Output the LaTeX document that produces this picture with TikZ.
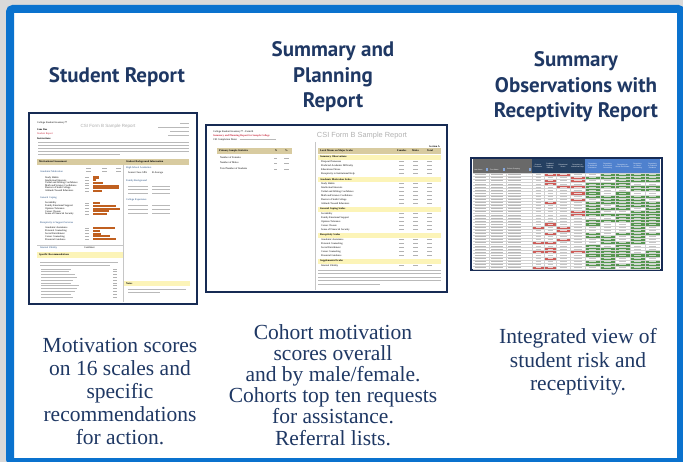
\documentclass[tikz,border=0pt]{standalone}
\usepackage{fontspec}
\setmainfont{Liberation Serif}
\newfontfamily\headfont{PT Sans}
\newfontfamily\reportfont{Liberation Sans}
\definecolor{framebl}{RGB}{10,114,206}
\definecolor{pagegray}{RGB}{217,217,217}
\definecolor{navy}{RGB}{31,56,100}
\definecolor{thumbnavy}{RGB}{23,43,84}
\definecolor{tanbar}{RGB}{216,203,160}
\definecolor{lemon}{RGB}{252,244,184}
\definecolor{rust}{RGB}{192,96,32}
\definecolor{riskred}{RGB}{206,92,88}
\definecolor{recgreen}{RGB}{86,150,80}
\definecolor{hdrgray}{RGB}{105,105,105}
\definecolor{hdrnavy}{RGB}{37,64,97}
\definecolor{hdrblue}{RGB}{79,129,206}
\definecolor{redtext}{RGB}{200,40,60}
\definecolor{sectblue}{RGB}{31,73,125}
\tikzset{
	heading/.style={font=\headfont\bfseries\fontsize{21}{25.5}\selectfont, text=navy, align=center},
	caption/.style={text=navy, align=center, anchor=north, inner sep=0pt},
	thumb/.style={draw=thumbnavy, fill=white, line width=1.5pt},
	tiny/.style={font=\fontsize{2.6}{3}\selectfont, inner sep=0pt, anchor=west},
	tinybf/.style={tiny, font=\bfseries\fontsize{2.6}{3}\selectfont},
	sect/.style={tiny, text=sectblue},
	txt/.style={draw=gray!55, line width=0.9pt},
	num/.style={draw=gray!60, line width=0.7pt},
	rule/.style={draw=gray!45, line width=0.3pt},
	hdr/.style={font=\reportfont\fontsize{1.7}{2}\selectfont, text=white, inner sep=0pt, align=center, text width=13pt}
}
\begin{document}
\begin{tikzpicture}[x=1pt, y=-1pt]
	\useasboundingbox (0,0) rectangle (683,462);
	\clip (0,0) rectangle (683,462);
	\fill[pagegray] (0,0) rectangle (683,462);
	\fill[white] (10,9) rectangle (681,462);
	\draw[framebl, line width=8pt, rounded corners=3pt] (10,9) rectangle (681,462);

	\node[heading] (h-student) at (117,77) {Student Report};
	\node[heading] (h-planning) at (333,77) {Summary and\\Planning\\Report};
	\node[heading] (h-recept) at (576,87) {Summary\\Observations with\\Receptivity Report};

	% student report
	\draw[thumb] (29,113) rectangle (197,304);
	\node[tiny] (sr-csi) at (37,123) {College Student Inventory\texttrademark};
	\node[tinybf] (sr-name) at (37,130) {Jane Doe};
	\node[tiny, text=redtext] (sr-kind) at (37,133.5) {Student Report};
	\node[font=\reportfont\fontsize{4.5}{5}\selectfont, text=gray!65, inner sep=0pt] (sr-form) at (108,126) {CSI Form B Sample Report};
	\foreach \xa/\y in {180/123, 158/127, 170/131, 168/135}
		\draw[txt, line width=0.7pt] (\xa,\y) -- (189,\y);
	\node[tinybf] (sr-instr) at (37,139) {Instructions};
	\foreach \y in {142.5,145.5,148.5,151.5}
		\draw[txt] (38,\y) -- (189,\y);
	\draw[txt] (38,154.5) -- (120,154.5);
	\fill[tanbar] (37,159) rectangle (189,165);
	\node[tinybf] (sr-ma) at (39,162) {Motivational Assessment};
	\node[tinybf] (sr-bg) at (126,162) {Student Background Information};
	\draw[rule] (123,165) -- (123,302);
	\node[sect] (sr-acad) at (40,171.5) {Academic Motivation};
	\foreach \x in {86,102,116}
		\draw[num, line width=0.6pt] (\x,168.5) -- ++(5,0) (\x,171.5) -- ++(5,0);
	\foreach \name/\len [count=\i from 0] in {Study Habits/6, Intellectual Interests/3, Verbal and Writing Confidence/10, Math and Science Confidence/26, Desire to Finish College/26, Attitude Toward Educators/9} {
		\node[tiny] (sr-am-\i) at (45,177.5+2.7*\i) {\name};
		\draw[num] (85,177.5+2.7*\i) -- ++(4,0);
		\fill[rust] (93,176.5+2.7*\i) rectangle ++(\len,2.1);
	}
	\node[sect] (sr-cope) at (40,198) {General Coping};
	\foreach \name/\len [count=\i from 0] in {Sociability/7, Family Emotional Support/23, Opinion Tolerance/27, Career Closure/16, Sense of Financial Security/14} {
		\node[tiny] (sr-gc-\i) at (45,203+2.8*\i) {\name};
		\draw[num] (85,203+2.8*\i) -- ++(4,0);
		\fill[rust] (93,202+2.8*\i) rectangle ++(\len,2.1);
	}
	\node[sect] (sr-rec) at (40,223) {Receptivity to Support Services};
	\foreach \name/\len [count=\i from 0] in {Academic Assistance/22, Personal Counseling/7, Social Enrichment/8, Career Counseling/17, Financial Guidance/23} {
		\node[tiny] (sr-rs-\i) at (45,228+2.8*\i) {\name};
		\draw[num] (85,228+2.8*\i) -- ++(4,0);
		\fill[rust] (93,227+2.8*\i) rectangle ++(\len,2.1);
	}
	\draw[rule] (37,245) -- (123,245);
	\node[sect] (sr-valid) at (40,248) {Internal Validity};
	\node[tiny] (sr-conf) at (84,248) {Confident};
	\fill[lemon] (37,252) rectangle (123,258);
	\node[tinybf] (sr-spec) at (39,255) {Specific Recommendations};
	\draw[txt] (40,262) -- (118,262);
	\draw[txt] (40,265) -- (110,265);
	\foreach \len [count=\i from 0] in {30,28,34,36,32,30,38,36,34,30,32} {
		\draw[txt, line width=0.7pt] (41,269+2.8*\i) -- ++(\len,0);
		\draw[num] (113,269+2.8*\i) -- ++(4,0);
	}
	\node[sect] (sr-hs) at (126,168) {High School Academics};
	\node[tiny] (sr-gpa) at (128,173) {Senior Class GPA};
	\node[tiny] (sr-avg) at (152,173) {B Average};
	\node[sect] (sr-fam) at (126,181) {Family Background};
	\node[sect] (sr-col) at (126,200) {College Experience};
	\foreach \y in {186,189.5,193,205,209,213}
		\draw[txt, line width=0.7pt] (128,\y) -- ++(20,0) (152,\y) -- ++(18,0);
	\fill[lemon] (124,281) rectangle (190,286);
	\node[tinybf] (sr-notes) at (126,283.5) {Notes};
	\draw[txt] (128,289.5) -- (186,289.5);
	\draw[txt] (128,292.5) -- (160,292.5);

	% summary and planning report
	\draw[thumb] (206,125) rectangle (447,292);
	\node[tiny] (sp-csi) at (213,131.5) {College Student Inventory\texttrademark\ - Form B};
	\node[tinybf, text=redtext] (sp-kind) at (213,135.5) {Summary and Planning Report for Sample College};
	\node[tiny] (sp-date) at (213,139.5) {CSI Completion Dates:};
	\draw[txt, line width=0.7pt] (sp-date.east) ++(2,0) -- ++(36,0);
	\node[font=\reportfont\fontsize{7.4}{8}\selectfont, text=gray!60, inner sep=0pt] (sp-form) at (362,136) {CSI Form B Sample Report};
	\node[tinybf, anchor=east] (sp-sect) at (440,147) {Section A};
	\fill[tanbar] (217,148) rectangle (292,154);
	\node[tinybf] (sp-pss) at (219,151) {Primary Sample Statistics};
	\node[tinybf] (sp-n) at (275,151) {N};
	\node[tinybf] (sp-pct) at (285,151) {\%};
	\foreach \name/\y [count=\i] in {Number of Females/158, Number of Males/163, Total Number of Students/169} {
		\node[tiny] (sp-ps-\i) at (220,\y) {\name};
		\draw[num] (274,\y) -- ++(3,0) (284,\y) -- ++(5,0);
	}
	\draw[rule] (315,142) -- (315,290);
	\fill[tanbar] (318,148) rectangle (441,154);
	\node[tinybf] (sp-lm) at (320,151) {Local Means on Major Scales};
	\node[tinybf] (sp-fem) at (397,151) {Females};
	\node[tinybf] (sp-mal) at (412,151) {Males};
	\node[tinybf] (sp-tot) at (427,151) {Total};
	\foreach \y/\name in {155/Summary Observations, 177/Academic Motivation Scales, 207/General Coping Scales, 233/Receptivity Scales, 259/Supplemental Scales} {
		\fill[lemon] (318,\y) rectangle (441,\y+4.6);
		\node[tinybf] (sp-bar-\y) at (320,\y+2.3) {\name};
	}
	\foreach \name [count=\i from 0] in {Dropout Proneness, Predicted Academic Difficulty, Educational Stress, Receptivity to Institutional Help}
		\node[tiny] (sp-so-\i) at (321,161.5+4*\i) {\name};
	\foreach \name [count=\i from 0] in {Study Habits, Intellectual Interests, Verbal and Writing Confidence, Math and Science Confidence, Desire to Finish College, Attitude Toward Educators}
		\node[tiny] (sp-am-\i) at (321,183.5+4*\i) {\name};
	\foreach \name [count=\i from 0] in {Sociability, Family Emotional Support, Opinion Tolerance, Career Closure, Sense of Financial Security}
		\node[tiny] (sp-gc-\i) at (321,213.5+4*\i) {\name};
	\foreach \name [count=\i from 0] in {Academic Assistance, Personal Counseling, Social Enrichment, Career Counseling, Financial Guidance}
		\node[tiny] (sp-rs-\i) at (321,239.5+4*\i) {\name};
	\node[tiny] (sp-iv) at (321,265.5) {Internal Validity};
	\foreach \y in {161.5,165.5,169.5,173.5,183.5,187.5,191.5,195.5,199.5,203.5,213.5,217.5,221.5,225.5,229.5,239.5,243.5,247.5,251.5,255.5,265.5}
		\foreach \x in {399,413,427}
			\draw[num] (\x,\y) -- ++(5,0);
	\foreach \y in {270,273.5,277,280.5}
		\draw[txt] (318,\y) -- (441,\y);
	\draw[txt] (318,284) -- (380,284);

	% receptivity report
	\draw[thumb] (471,158) rectangle (662,270);
	\fill[hdrgray] (473,159.5) rectangle (532,173);
	\fill[hdrnavy] (532,159.5) rectangle (585,173);
	\fill[hdrblue] (585,159.5) rectangle (660,173);
	\foreach \xa/\xb/\name [count=\i] in {473/489/Last Name, 489/506/First Name, 506/532/Cohort Grouping} {
		\node[hdr, anchor=west, text width=14pt, align=left] (rv-h\i) at (\xa+1,169.5) {\name};
		\fill[hdrblue!70] (\xb-3.5,168.5) rectangle (\xb-1,171);
	}
	\foreach \xa/\xb/\name [count=\i from 4] in {532/544/Dropout Proneness, 544/556/Predicted Academic Difficulty, 556/570/Educational Stress, 570/585/Receptivity to Institutional Help, 585/600/Receptivity to Academic Assistance, 600/615/Receptivity to Personal Counseling, 615/630/Receptivity to Social Enrichment, 630/645/Receptivity to Career Counseling, 645/660/Receptivity to Financial Guidance}
		\node[hdr, text width=\xb-\xa-1] (rv-h\i) at ({(\xa+\xb)/2},166.3) {\name};
	\pgfmathsetseed{17}
	\foreach \r in {0,...,30} {
		\draw[txt, line width=0.6pt] (475,174.55+3.1*\r) -- ++(11,0) (491,174.55+3.1*\r) -- ++(12,0) (508,174.55+3.1*\r) -- ++(13,0);
		\foreach \xa/\xb/\p in {532/544/15, 544/556/38, 556/570/18, 570/585/32} {
			\pgfmathrandominteger{\rr}{0}{99}
			\ifnum\rr<\p
				\fill[riskred] (\xa,173+3.1*\r) rectangle (\xb,176.1+3.1*\r);
				\draw[white!75!riskred, line width=0.6pt] (\xa+3.5,174.55+3.1*\r) -- (\xb-3.5,174.55+3.1*\r);
			\else
				\draw[gray!45, line width=0.6pt] (\xa+3.5,174.55+3.1*\r) -- (\xb-3.5,174.55+3.1*\r);
			\fi
		}
		\foreach \xa/\xb in {585/600, 600/615, 615/630, 630/645, 645/660} {
			\pgfmathrandominteger{\rr}{0}{99}
			\ifnum\rr<74
				\fill[recgreen] (\xa,173+3.1*\r) rectangle (\xb,176.1+3.1*\r);
				\draw[white!70!recgreen, line width=0.6pt] (\xa+4,174.55+3.1*\r) -- (\xb-4,174.55+3.1*\r);
			\else
				\draw[gray!45, line width=0.6pt] (\xa+4,174.55+3.1*\r) -- (\xb-4,174.55+3.1*\r);
			\fi
		}
	}
	\foreach \r in {0,...,31}
		\draw[gray!35, line width=0.25pt] (473,173+3.1*\r) -- (660,173+3.1*\r);
	\foreach \x in {489,506,532,544,556,570,585,600,615,630,645}
		\draw[gray!35, line width=0.25pt] (\x,173) -- (\x,269.1);

	\node[caption, font=\fontsize{21.5}{23}\selectfont] (c-student) at (120,338.5) {Motivation scores\\on 16 scales and\\specific\\recommendations\\for action.};
	\node[caption, font=\fontsize{21.5}{21.2}\selectfont] (c-planning) at (333,324) {Cohort motivation\\scores overall\\and by male/female.\\Cohorts top ten requests\\for assistance.\\Referral lists.};
	\node[caption, font=\fontsize{21.5}{23.5}\selectfont] (c-recept) at (578,328.5) {Integrated view of\\student risk and\\receptivity.};
\end{tikzpicture}
\end{document}
